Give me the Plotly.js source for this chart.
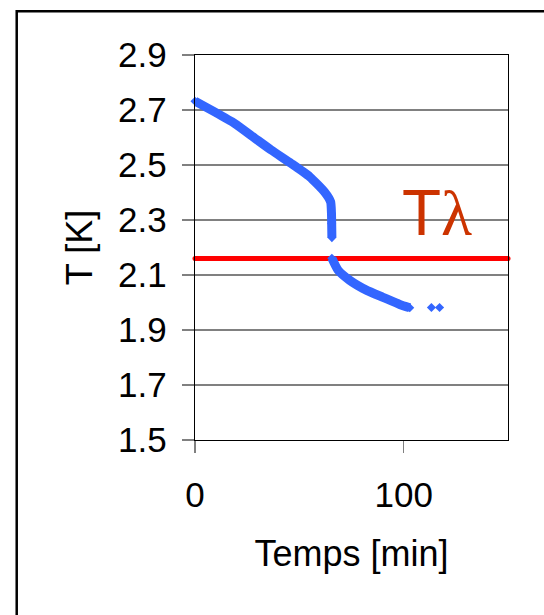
<!DOCTYPE html>
<html>
<head>
<meta charset="utf-8">
<script src="https://cdn.plot.ly/plotly-3.0.1.min.js"></script>
<style>
  html, body { margin: 0; padding: 0; background: #ffffff; }
  #chart { width: 544px; height: 615px; }
</style>
</head>
<body>
<div id="chart"></div>
<script>
// Cool-down of the bath: temperature vs time, with the lambda point marked
const timeUpper = [0, 9.4, 19.0, 28.6, 36.6, 46.2, 55.0, 62.1, 65.0, 65.4, 65.5, 65.6];
const tempUpper = [2.732, 2.693, 2.651, 2.598, 2.554, 2.505, 2.457, 2.402, 2.366, 2.324, 2.287, 2.236];
const timeLower = [65.6, 68.5, 74.1, 82.1, 90.1, 98.1, 102.9];
const tempLower = [2.161, 2.118, 2.081, 2.045, 2.019, 1.993, 1.981];
const timeLate = [113.3, 117.2];
const tempLate = [1.982, 1.982];

const lambdaTemp = 2.16;
const lambdaSpan = [0, 150];

const yTicks = [1.5, 1.7, 1.9, 2.1, 2.3, 2.5, 2.7, 2.9];
const xTicks = [0, 100];

const blue = '#3366FF';
const fontFamily = '"Liberation Sans", Arial, sans-serif';

const measured = {
  mode: 'lines+markers',
  line: { color: blue, width: 9, shape: 'spline', smoothing: 0.5 },
  marker: { symbol: 'diamond', size: 7, color: blue },
  cliponaxis: false,
  showlegend: false,
  hoverinfo: 'x+y'
};

const traces = [
  {
    x: lambdaSpan,
    y: lambdaSpan.map(() => lambdaTemp),
    mode: 'lines+markers',
    line: { color: '#FF0000', width: 5 },
    marker: { color: '#FF0000', size: 5, symbol: 'circle' },
    cliponaxis: false,
    showlegend: false,
    hoverinfo: 'y'
  },
  Object.assign({ x: timeUpper, y: tempUpper }, measured),
  Object.assign({ x: timeLower, y: tempLower }, measured),
  {
    x: timeLate, y: tempLate,
    mode: 'markers',
    marker: { symbol: 'diamond', size: 7, color: blue },
    cliponaxis: false,
    showlegend: false,
    hoverinfo: 'x+y'
  }
];

const layout = {
  width: 544,
  height: 615,
  margin: { l: 195, r: 36, t: 55, b: 175, pad: 0 },
  paper_bgcolor: '#ffffff',
  plot_bgcolor: '#ffffff',
  font: { family: fontFamily, color: '#000000', size: 35 },
  xaxis: {
    range: [0, 150],
    tickvals: xTicks,
    ticktext: xTicks.map(String),
    showgrid: false,
    zeroline: false,
    showline: true,
    linecolor: '#000000',
    linewidth: 1.3,
    mirror: true,
    ticks: 'outside',
    ticklen: 12,
    tickwidth: 1.3,
    tickcolor: '#808080',
    ticklabelstandoff: 12,
    tickfont: { size: 35, family: fontFamily, color: '#000000' },
    title: { text: 'Temps [min]', font: { size: 36, family: fontFamily, color: '#000000' }, standoff: 27 },
    automargin: false
  },
  yaxis: {
    range: [1.5, 2.9],
    tickvals: yTicks,
    ticktext: yTicks.map(v => v.toFixed(1)),
    showgrid: true,
    gridcolor: '#808080',
    gridwidth: 1.2,
    zeroline: false,
    showline: true,
    linecolor: '#000000',
    linewidth: 1.3,
    mirror: true,
    ticks: 'outside',
    ticklen: 12,
    tickwidth: 1.3,
    tickcolor: '#808080',
    ticklabelstandoff: 8,
    tickfont: { size: 35, family: fontFamily, color: '#000000' },
    title: { text: 'T [K]', font: { size: 36, family: fontFamily, color: '#000000' }, standoff: 14 },
    automargin: false
  },
  annotations: [
    {
      xref: 'x', yref: 'y',
      x: 116, y: 2.325,
      xanchor: 'center', yanchor: 'middle',
      text: 'T<span style="font-family:\'Liberation Serif\', \'Times New Roman\', serif">λ</span>',
      showarrow: false,
      font: { size: 64, family: fontFamily, color: '#CC3300' }
    }
  ],
  shapes: [
    {
      type: 'rect', xref: 'paper', yref: 'paper',
      x0: -0.5696, x1: 1.3, y0: -0.6, y1: 1.1134,
      line: { color: '#000000', width: 2.5 },
      fillcolor: 'rgba(0,0,0,0)',
      layer: 'below'
    }
  ]
};

Plotly.newPlot('chart', traces, layout, { displayModeBar: false, staticPlot: true });
</script>
</body>
</html>
